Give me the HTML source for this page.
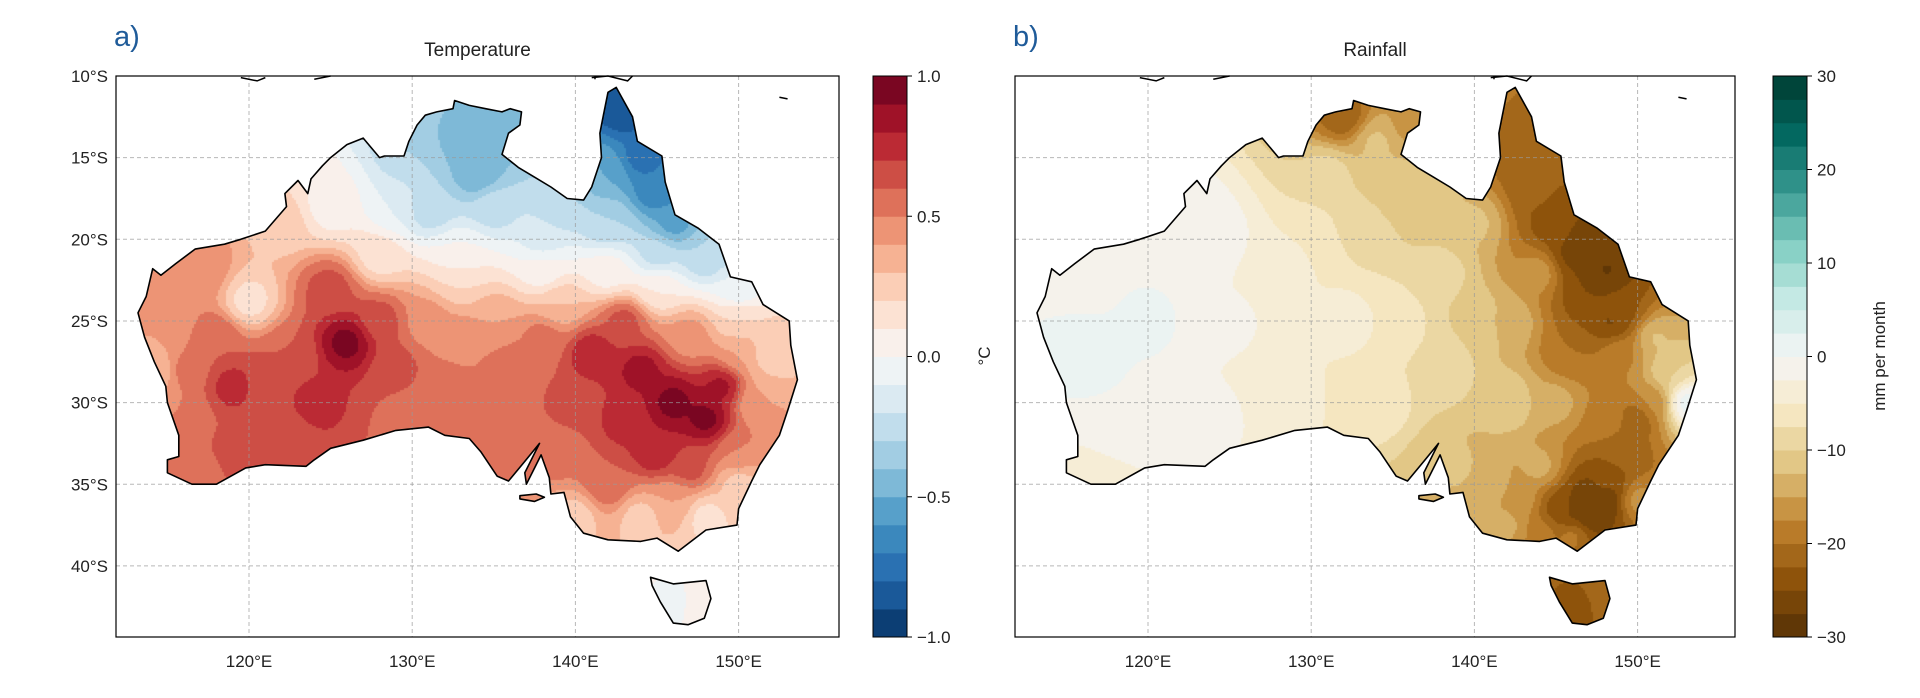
<!DOCTYPE html>
<html><head><meta charset="utf-8">
<style>
html,body{margin:0;padding:0;background:#fff;}
#wrap{position:relative;width:1920px;height:698px;overflow:hidden;font-family:"Liberation Sans","DejaVu Sans",sans-serif;}
canvas,svg{position:absolute;left:0;top:0;}
</style></head>
<body>
<div id="wrap">
<canvas id="cv" width="1920" height="698"></canvas>
<svg id="sv" width="1920" height="698"></svg>
</div>
<script>
// ---- data ----
const tempLon=[131,133,136,130,134,131,135,129,143,144,145,142,146,148,142,139,138,145,150,125,122,133,133,128,138,142,145,150,152,117,120,115,114.5,118,119,116,117,121,122,124,122.5,126,125,128,129,131,133,132,130,135,134,136,138,137,141,144,146,148,149,143,140,145,147,142,139,150,151,146,144,140,148,152,150,143,147,150,139,146,147.5,116,119];
const tempLat=[-12.5,-14,-13,-15,-16,-18,-18,-18,-12,-15,-17,-16,-19,-21,-19,-18,-20,-21,-23,-18,-19,-21,-22.5,-21,-22,-22,-23,-25,-27,-22,-23.8,-25,-28,-26,-29,-31,-34,-29,-32,-30,-27,-26.3,-23,-25,-28,-25,-26,-29,-30.5,-25,-31,-28,-26,-30,-27,-28,-30,-31,-29,-31,-30,-33,-34,-35,-33,-33,-30,-36,-37,-37,-37,-28,-35,-25,-26,-27,-24,-42,-42,-28,-33];
const tempVal=[-0.4,-0.45,-0.5,-0.3,-0.5,-0.3,-0.25,-0.1,-0.9,-0.75,-0.7,-0.5,-0.55,-0.3,-0.3,-0.3,-0.15,-0.25,-0.1,0.05,0.25,0.0,0.2,0.15,0.05,0.05,0.1,0.2,0.2,0.5,0.15,0.4,0.3,0.6,0.75,0.5,0.55,0.65,0.6,0.75,0.6,0.95,0.65,0.65,0.65,0.45,0.45,0.55,0.55,0.4,0.5,0.6,0.55,0.6,0.8,0.85,0.95,0.95,0.85,0.75,0.65,0.8,0.65,0.6,0.55,0.5,0.4,0.4,0.25,0.25,0.15,0.3,0.25,0.65,0.45,0.4,0.3,-0.05,0.05,0.55,0.65];
const rainLon=[116,120,116,118,124,122,117,125,128,130,132,134,136,131,135,137,133,130,134,128,124,138,138,140,142,143,144,145,146,147,148,149,144,142,140,146,149,151,152,153,151,148,145,142,149,148,147,145,143,141,139,144,150,146,142,146.5,147.5,145,146,147,148,148.5,150,148,147,146,144,135,132];
const rainLat=[-22,-25,-27,-32,-20,-19,-34.5,-25,-22,-20,-12.5,-14,-13,-16,-17,-17,-19,-28,-30,-30,-31,-28,-22,-19,-13,-15,-17,-19,-21,-23,-24,-24.5,-22,-25,-25,-27,-27,-26,-28,-30,-30,-31,-30,-30,-33,-35,-36,-36.5,-36,-35,-34,-34,-36,-38,-37.5,-42,-41.5,-16,-18,-20,-22,-25,-31,-36,-37,-37,-38,-25,-25];
const rainVal=[-1,0.5,1,0,-1,0,-5,-2,-4,-5,-22,-12,-16,-9,-11,-10,-9,-5,-6,-3,-2,-8,-9,-12,-20,-22,-22,-24,-26,-25,-25,-23,-16,-13,-10,-20,-18,-12,-10,2,-17,-18,-14,-10,-22,-24,-28,-24,-16,-14,-12,-14,-16,-18,-14,-24,-20,-22,-25,-27,-28,-26,-22,-28,-28,-26,-18,-5,-4];
const lonTicks=[120,130,140,150];
const latTicks=[10,15,20,25,30,35,40];
const tempCbTicks=[1.0,0.5,0.0,-0.5,-1.0];
const rainCbTicks=[30,20,10,0,-10,-20,-30];

const mainland=[[142.5,-10.7],[143.5,-12.5],[143.8,-14],[145.3,-14.9],[145.5,-16.5],[146.1,-18.5],[147.5,-19.3],[148.8,-20.3],[149.5,-22.3],[150.8,-22.6],[151.5,-24],[153.1,-25],[153.2,-26.5],[153.6,-28.6],[153,-30.5],[152.5,-32],[151.3,-33.8],[150.8,-34.8],[150,-36.5],[149.9,-37.5],[148,-37.8],[146.3,-39.1],[145,-38.3],[144,-38.5],[142,-38.4],[140.5,-38],[139.7,-37],[139.3,-35.5],[138.5,-35.6],[138.4,-34.6],[137.9,-33.2],[137.5,-34],[137,-35],[136.9,-34.3],[137.8,-32.5],[136.9,-33.6],[135.9,-34.8],[135.2,-34.5],[134.2,-33],[133.5,-32.2],[132,-32],[131,-31.5],[129,-31.7],[127,-32.3],[125,-32.8],[124,-33.5],[123.5,-33.9],[121,-33.8],[119.8,-34],[118,-35],[116.5,-35],[115,-34.3],[115,-33.5],[115.7,-33.3],[115.7,-32],[115,-30],[114.9,-29],[114.2,-27.5],[113.6,-26],[113.2,-24.5],[113.7,-23.5],[114.1,-21.8],[114.6,-22.2],[115.5,-21.5],[116.7,-20.6],[118.5,-20.3],[119.5,-20],[121,-19.5],[122.3,-18],[122.2,-17.2],[123,-16.4],[123.6,-17.2],[123.8,-16.3],[124.5,-15.5],[125,-15],[126,-14.2],[127,-13.8],[128,-15],[128.3,-14.9],[129.5,-14.9],[129.8,-14],[130.3,-13],[130.8,-12.4],[131.5,-12.2],[132.5,-12],[132.6,-11.5],[133.5,-11.8],[134.5,-12],[135.5,-12.2],[136,-12],[136.7,-12.2],[136.6,-13],[135.9,-13.5],[135.5,-14.8],[136.5,-15.6],[137.5,-16.2],[138.5,-16.8],[139.5,-17.5],[140.5,-17.6],[141,-16.8],[141.6,-15],[141.5,-13.5],[141.7,-12.5],[142,-11]];
const tasmania=[[144.6,-40.7],[146,-41.1],[148,-40.9],[148.3,-42],[147.9,-43.2],[146.9,-43.6],[146,-43.5],[145.2,-42.2],[144.7,-41.2]];
const kangaroo=[[136.6,-35.7],[137.6,-35.6],[138.1,-35.8],[137.5,-36.05],[136.6,-35.9]];

function lerpHex(stops,t){t=Math.max(0,Math.min(1,t));const n=stops.length-1;const i=Math.min(n-1,Math.floor(t*n));const f=t*n-i;
 const a=stops[i],b=stops[i+1];const p=s=>[parseInt(s.substr(1,2),16),parseInt(s.substr(3,2),16),parseInt(s.substr(5,2),16)];
 const A=p(a),B=p(b);return 'rgb('+A.map((v,k)=>Math.round(v+(B[k]-v)*f)).join(',')+')';}
const RdBu=['#67001f','#b2182b','#d6604d','#f4a582','#fddbc7','#f7f7f7','#d1e5f0','#92c5de','#4393c3','#2166ac','#053061'];
const BrBG=['#543005','#8c510a','#bf812d','#dfc27d','#f6e8c3','#f5f5f5','#c7eae5','#80cdc1','#35978f','#01665e','#003c30'];
function binColors(stops,n,rev){const c=[];for(let i=0;i<n;i++){let t=(i+0.5)/n;if(rev)t=1-t;c.push(lerpHex(stops,t));}return c;}
const tempBins=binColors(RdBu,20,true);
const rainBins=binColors(BrBG,24,false);

const panels=[
 {x0:116,x1:839,X0:249,cbx:873,lons:tempLon,lats:tempLat,vals:tempVal,vmin:-1,vmax:1,bins:tempBins,ticks:tempCbTicks,fmt:v=>(v<0?'\u2212':'')+Math.abs(v).toFixed(1),title:'Temperature',tag:'a)',cbl:'°C',name:'temperature'},
 {x0:1015,x1:1735,X0:1148,cbx:1773,lons:rainLon,lats:rainLat,vals:rainVal,vmin:-30,vmax:30,bins:rainBins,ticks:rainCbTicks,fmt:v=>(v<0?'\u2212':'')+Math.abs(v),title:'Rainfall',tag:'b)',cbl:'mm per month',name:'rainfall'}];
const Y0=76,Y1=637,DX=16.32,DY=16.33;
const ctx=document.getElementById('cv').getContext('2d');
const svg=document.getElementById('sv');const NS='http://www.w3.org/2000/svg';
function mk(tag,attrs,parent){const e=document.createElementNS(NS,tag);for(const k in attrs)e.setAttribute(k,attrs[k]);(parent||svg).appendChild(e);return e;}

panels.forEach(P=>{
 const px=lon=>P.X0+(lon-120)*DX, py=lat=>Y0+(-lat-10)*DY;
 const ilon=x=>120+(x-P.X0)/DX, ilat=y=>-((y-Y0)/DY+10);
 const g=mk('g',{});
 
 
 const path=new Path2D();
 [mainland,tasmania,kangaroo].forEach(poly=>{poly.forEach((p,i)=>{i?path.lineTo(px(p[0]),py(p[1])):path.moveTo(px(p[0]),py(p[1]));});path.closePath();});
 ctx.save();ctx.clip(path);
 const n=P.bins.length,step=2;
 for(let y=Y0;y<Y1;y+=step){for(let x=P.x0;x<P.x1;x+=step){
   const lo=ilon(x+1),la=ilat(y+1);let sw=0,sv=0;
   for(let k=0;k<P.lons.length;k++){const dx=lo-P.lons[k],dy=la-P.lats[k];const w=1/Math.pow(dx*dx+dy*dy+0.6,1.8);sw+=w;sv+=w*P.vals[k];}
   const v=sv/sw;let bi=Math.floor((v-P.vmin)/(P.vmax-P.vmin)*n);bi=Math.max(0,Math.min(n-1,bi));
   ctx.fillStyle=P.bins[bi];ctx.fillRect(x,y,step,step);}}
 ctx.restore();
 lonTicks.forEach(l=>{const e=mk('line',{x1:px(l),x2:px(l),y1:Y0,y2:Y1,stroke:'#9a9a9a','stroke-width':1,'stroke-dasharray':'4,3',opacity:0.7},g);});
 latTicks.forEach(l=>{if(l===10)return;const e=mk('line',{x1:P.x0,x2:P.x1,y1:py(-l),y2:py(-l),stroke:'#9a9a9a','stroke-width':1,'stroke-dasharray':'4,3',opacity:0.7},g);});
 [mainland,tasmania,kangaroo].forEach(poly=>{const d=poly.map((p,i)=>(i?'L':'M')+px(p[0]).toFixed(1)+','+py(p[1]).toFixed(1)).join('')+'Z';
  const e=mk('path',{d:d,fill:'none',stroke:'#000','stroke-width':1.6,'stroke-linejoin':'round'},g);});
 [[[119.5,-10.1],[120.5,-10.3],[121,-10.1]],[[124,-10.2],[125,-10.0]],[[141,-10.1],[142,-10.0],[143.2,-10.3],[143.5,-10.0]],[[152.5,-11.3],[153,-11.4]],[[141.2,-10.0],[141.2,-10.2]]].forEach(pl=>{
  const e=mk('polyline',{points:pl.map(p=>px(p[0])+','+py(p[1])).join(' '),fill:'none',stroke:'#000','stroke-width':1.5},g);});
 const fr=mk('rect',{x:P.x0,y:Y0,width:P.x1-P.x0,height:Y1-Y0,fill:'none',stroke:'#000','stroke-width':1.2},g);
 
 lonTicks.forEach(l=>{const t=mk('text',{x:px(l),y:Y1+30,'text-anchor':'middle','font-size':17,fill:'#222'},g);t.textContent=l+'°E';});
 if(P.name==='temperature'){latTicks.forEach(l=>{const t=mk('text',{x:P.x0-8,y:py(-l)+6,'text-anchor':'end','font-size':17,fill:'#222'},g);t.textContent=l+'°S';});}
 const tt=mk('text',{x:(P.x0+P.x1)/2,y:56,'text-anchor':'middle','font-size':19,fill:'#222'},g);tt.textContent=P.title;
 const tg=mk('text',{x:P.x0-2,y:46,'font-size':29,fill:'#1f5b99'},g);tg.textContent=P.tag;
 const cw=34,ch=Y1-Y0;
 for(let i=0;i<n;i++){const r=mk('rect',{x:P.cbx,y:Y1-(i+1)*ch/n,width:cw,height:ch/n+0.5,fill:P.bins[i]},g);}
 const cf=mk('rect',{x:P.cbx,y:Y0,width:cw,height:ch,fill:'none',stroke:'#000','stroke-width':1},g);
 P.ticks.forEach(v=>{const yy=Y1-(v-P.vmin)/(P.vmax-P.vmin)*ch;mk('line',{x1:P.cbx+cw,x2:P.cbx+cw+5,y1:yy,y2:yy,stroke:'#000'},g);
  const t=mk('text',{x:P.cbx+cw+10,y:yy+6,'font-size':17,fill:'#222'},g);t.textContent=P.fmt(v);});
 const lx=P.name==='temperature'?990:1885;
 const cl=mk('text',{x:lx,y:356,'text-anchor':'middle','font-size':17,fill:'#222',transform:'rotate(-90 '+lx+' 356)'},g);cl.textContent=P.cbl;
});
</script>
</body></html>
